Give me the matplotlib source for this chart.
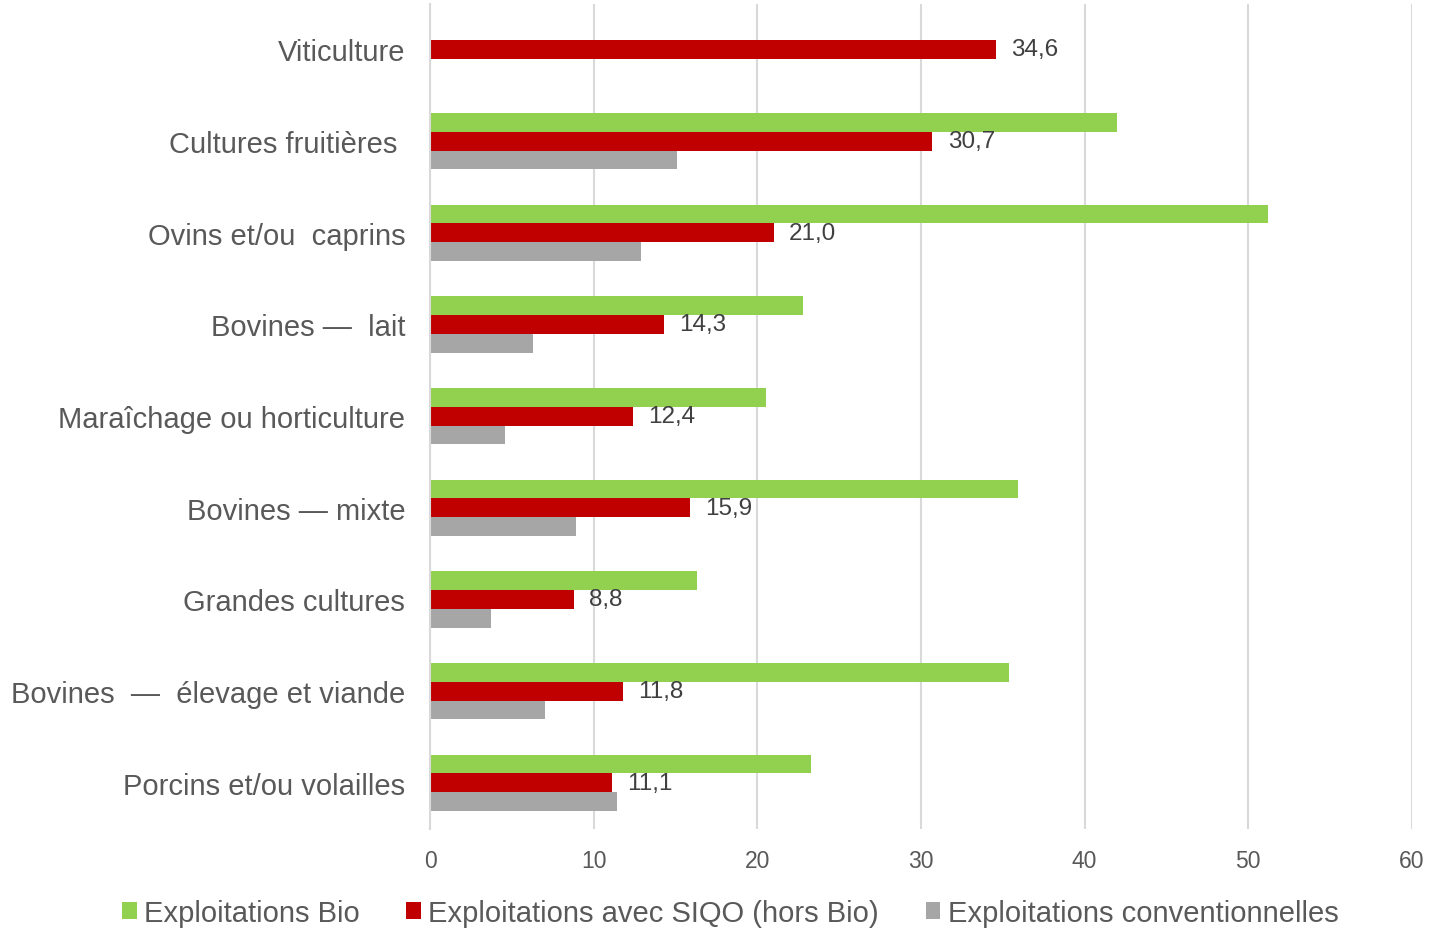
import numpy as np
import matplotlib.pyplot as plt

plt.rcParams['font.family'] = ['Liberation Sans', 'DejaVu Sans']

# data
categories = ["Viticulture", "Cultures fruitières ", "Ovins et/ou  caprins",
              "Bovines —  lait", "Maraîchage ou horticulture", "Bovines — mixte",
              "Grandes cultures", "Bovines  —  élevage et viande",
              "Porcins et/ou volailles"]
bio = [np.nan, 42.0, 51.2, 22.8, 20.5, 35.9, 16.3, 35.4, 23.3]
siqo = [34.6, 30.7, 21.0, 14.3, 12.4, 15.9, 8.8, 11.8, 11.1]
conv = [np.nan, 15.1, 12.9, 6.3, 4.6, 8.9, 3.7, 7.0, 11.4]
series_names = ["Exploitations Bio", "Exploitations avec SIQO (hors Bio)",
                "Exploitations conventionnelles"]
colors = ["#92D050", "#C00000", "#A6A6A6"]

fig = plt.figure(figsize=(14.29, 9.29), dpi=100)
ax = fig.add_axes([0.301, 0.107, 0.687, 0.888])

y = np.arange(len(categories))
h = 0.205
b1 = ax.barh(y - h, bio, height=h, color=colors[0], label=series_names[0])
b2 = ax.barh(y, siqo, height=h, color=colors[1], label=series_names[1])
b3 = ax.barh(y + h, conv, height=h, color=colors[2], label=series_names[2])

ax.bar_label(b2, labels=[f"{v:.1f}".replace(".", ",") for v in siqo],
             padding=11, fontsize=17.5, color="#404040")

ax.set_xlim(0, 60)
ax.set_ylim(8.5, -0.5)
ax.set_xticks(range(0, 61, 10))
ax.set_yticks(y)
ax.set_yticklabels(categories, fontsize=21, color="#595959")
ax.tick_params(axis="x", labelsize=16.5, colors="#595959", length=0, pad=15)
ax.tick_params(axis="y", length=0, pad=18)
ax.grid(axis="x", color="#D9D9D9", linewidth=1.5)
ax.set_axisbelow(True)
for s in ["top", "right", "bottom"]:
    ax.spines[s].set_visible(False)
ax.spines["left"].set_color("#D9D9D9")
ax.spines["left"].set_linewidth(1.5)

fig.legend(handles=[b1, b2, b3], loc="lower center", ncol=3,
           bbox_to_anchor=(0.511, -0.027), frameon=False, fontsize=21,
           handlelength=0.5, handleheight=0.5, handletextpad=0.25,
           columnspacing=1.6, labelcolor="#595959")

fig.savefig("out.png", dpi=100)
